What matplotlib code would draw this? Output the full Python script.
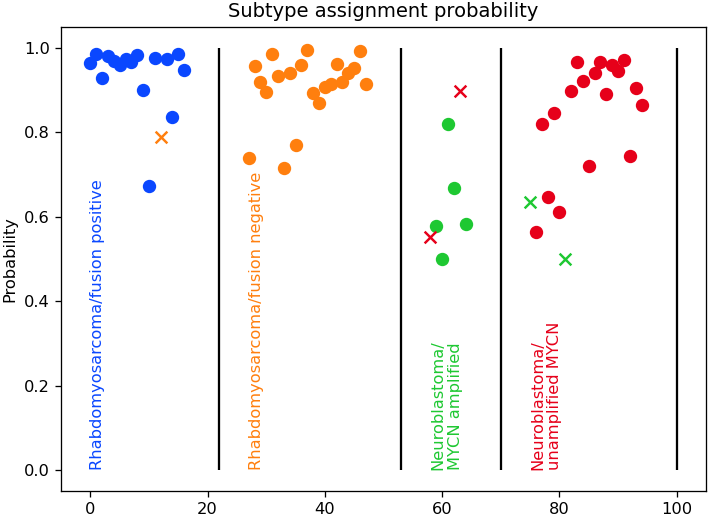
import matplotlib
matplotlib.use("Agg")
import matplotlib.pyplot as plt

# sample index / probability per group; crosses are misassigned samples
blue_x = [0, 1, 2, 3, 4, 5, 6, 7, 8, 9, 10, 11, 13, 14, 15, 16]
blue_y = [0.965, 0.985, 0.928, 0.981, 0.969, 0.961, 0.975, 0.966, 0.983, 0.900,
          0.674, 0.977, 0.973, 0.837, 0.985, 0.947]
blue_cross_x = [12]
blue_cross_y = [0.790]

orange_x = list(range(27, 48))
orange_y = [0.739, 0.957, 0.920, 0.897, 0.987, 0.934, 0.715, 0.941, 0.770, 0.960,
            0.995, 0.894, 0.870, 0.908, 0.916, 0.963, 0.919, 0.940, 0.952, 0.993, 0.916]

green_x = [59, 60, 61, 62, 64]
green_y = [0.579, 0.500, 0.820, 0.668, 0.582]
green_cross_x = [58, 63]
green_cross_y = [0.552, 0.898]

red_x = [76, 77, 78, 79, 80, 82, 83, 84, 85, 86, 87, 88, 89, 90, 91, 92, 93, 94]
red_y = [0.563, 0.821, 0.648, 0.846, 0.612, 0.899, 0.968, 0.921, 0.720, 0.940,
         0.968, 0.891, 0.960, 0.946, 0.972, 0.745, 0.905, 0.865]
red_cross_x = [75, 81]
red_cross_y = [0.636, 0.500]

dividers = [22, 53, 70, 100]
group_labels = ["Rhabdomyosarcoma/fusion positive",
                "Rhabdomyosarcoma/fusion negative",
                "Neuroblastoma/\nMYCN amplified",
                "Neuroblastoma/\nunamplified MYCN"]
label_x = [0, 27, 58, 75]

c_blue = "#0a47ff"
c_orange = "#ff7f0e"
c_green = "#1ec832"
c_red = "#e6001a"
colors = [c_blue, c_orange, c_green, c_red]

dpi = 117
fig, ax = plt.subplots(figsize=(708/dpi, 518/dpi), dpi=dpi)
plt.subplots_adjust(left=61/708, right=706/708, top=1-27/518, bottom=1-491/518)

ms = 52
ax.scatter(blue_x, blue_y, s=ms, color=c_blue)
ax.scatter(blue_cross_x, blue_cross_y, s=ms, marker="x", color=c_orange)
ax.scatter(orange_x, orange_y, s=ms, color=c_orange)
ax.scatter(green_x, green_y, s=ms, color=c_green)
ax.scatter(green_cross_x, green_cross_y, s=ms, marker="x", color=c_red)
ax.scatter(red_x, red_y, s=ms, color=c_red)
ax.scatter(red_cross_x, red_cross_y, s=ms, marker="x", color=c_green)

ax.vlines(dividers, 0, 1, colors="black", linewidth=1.4)

for x, lab, c in zip(label_x, group_labels, colors):
    ax.text(x, 0, lab, rotation=90, color=c, ha="left", va="bottom")

ax.set_ylabel("Probability")
ax.set_title("Subtype assignment probability")

plt.savefig("out.png", dpi=dpi)
